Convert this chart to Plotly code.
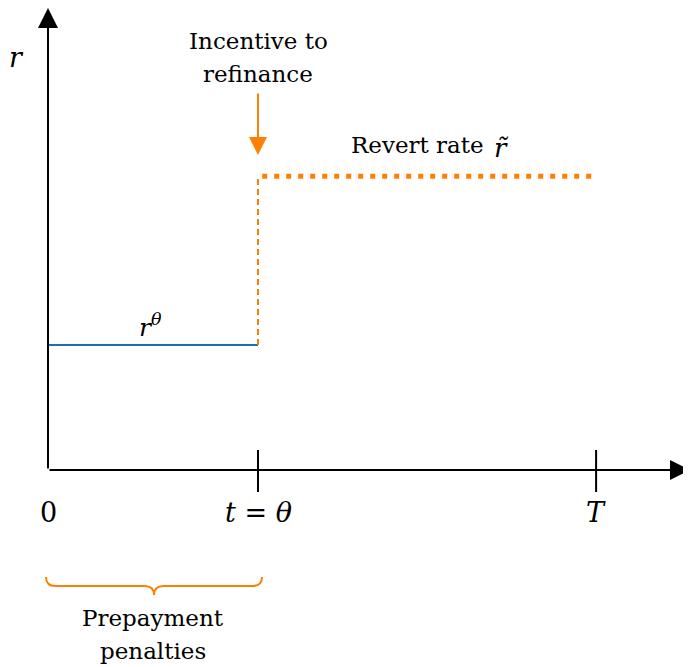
import plotly.graph_objects as go

# ---- data (chart units) ----
t_theta = 1.0          # refinance time θ
T_end = 2.61           # maturity T
r_theta = 1.0          # initial rate r^θ
r_tilde = 2.35         # revert rate r̃
tick_positions = [0.0, t_theta, T_end]
tick_labels = ["0", "<i>t</i> = <i>θ</i>", "<i>T</i>"]

ORANGE = "#ff8000"
BLUE = "#1a6fb0"
FONT = "DejaVu Serif"
TXT = 23
MATH = 27

# page offset (body margin) compensation, in px
OFF = 8
PX_X = 210.0
PX_Y = 125.0
X0PX = 48 - OFF
Y0PX = 470 - OFF

fig = go.Figure()

fig.add_trace(go.Scatter(x=[0.0, t_theta], y=[r_theta, r_theta], mode="lines",
                         line=dict(color=BLUE, width=2), hoverinfo="skip"))
fig.add_trace(go.Scatter(x=[t_theta, t_theta], y=[r_theta, r_tilde], mode="lines",
                         line=dict(color=ORANGE, width=2, dash="6px,4px"), hoverinfo="skip"))
fig.add_trace(go.Scatter(x=[t_theta + 0.02, T_end], y=[r_tilde, r_tilde], mode="lines",
                         line=dict(color=ORANGE, width=5, dash="5px,7px"), hoverinfo="skip"))

x_tip = 3.057
y_tip = 3.696
ann = []
ann.append(dict(x=x_tip, y=0, ax=0, ay=0, xref="x", yref="y", axref="x", ayref="y",
                text="", showarrow=True, arrowhead=2, arrowsize=2.0, arrowwidth=2, arrowcolor="black"))
ann.append(dict(x=0, y=y_tip, ax=0, ay=0, xref="x", yref="y", axref="x", ayref="y",
                text="", showarrow=True, arrowhead=2, arrowsize=2.0, arrowwidth=2, arrowcolor="black"))

shapes = []
for tp in tick_positions[1:]:
    shapes.append(dict(type="line", xref="x", yref="y", x0=tp, x1=tp, y0=0.16, y1=-0.176,
                       line=dict(color="black", width=2)))
for tp, tl in zip(tick_positions, tick_labels):
    ann.append(dict(x=tp, y=-0.336, xref="x", yref="y", text=tl, showarrow=False,
                    font=dict(family=FONT, size=MATH, color="black"), xanchor="center", yanchor="middle"))

ann.append(dict(x=-0.148, y=3.30, xref="x", yref="y", text="<i>r</i>", showarrow=False,
                font=dict(family=FONT, size=MATH, color="black")))

ann.append(dict(x=t_theta, y=3.43, xref="x", yref="y", text="Incentive to", showarrow=False,
                font=dict(family=FONT, size=TXT, color="black")))
ann.append(dict(x=t_theta, y=3.17, xref="x", yref="y", text="refinance", showarrow=False,
                font=dict(family=FONT, size=TXT, color="black")))
ann.append(dict(x=t_theta, y=2.52, ax=t_theta, ay=3.024, xref="x", yref="y", axref="x", ayref="y",
                text="", showarrow=True, arrowhead=2, arrowsize=1.8, arrowwidth=2, arrowcolor=ORANGE))

ann.append(dict(x=1.434, y=2.6, xref="x", yref="y", text="Revert rate",
                showarrow=False, xanchor="left",
                font=dict(family=FONT, size=TXT, color="black")))
ann.append(dict(x=2.158, y=2.58, xref="x", yref="y", text="<i>r̃</i>",
                showarrow=False, xanchor="center",
                font=dict(family=FONT, size=26, color="black")))

ann.append(dict(x=0.486, y=1.16, xref="x", yref="y", text="<i>r</i><sup><i>θ</i></sup>",
                showarrow=False, font=dict(family=FONT, size=25, color="black")))

x0, x1 = -0.0095, 1.019
xm = (x0 + x1) / 2
ytop, yh, ytip = -0.856, -0.928, -1.0
c = 0.045
path = (f"M {x0},{ytop} Q {x0},{yh} {x0 + c},{yh} L {xm - c},{yh} Q {xm},{yh} {xm},{ytip} "
        f"Q {xm},{yh} {xm + c},{yh} L {x1 - c},{yh} Q {x1},{yh} {x1},{ytop}")
shapes.append(dict(type="path", path=path, xref="x", yref="y", line=dict(color=ORANGE, width=2)))

ann.append(dict(x=0.5, y=-1.182, xref="x", yref="y", text="Prepayment", showarrow=False,
                font=dict(family=FONT, size=TXT, color="black")))
ann.append(dict(x=0.5, y=-1.446, xref="x", yref="y", text="penalties", showarrow=False,
                font=dict(family=FONT, size=TXT, color="black")))

fig.update_layout(
    width=691, height=667,
    margin=dict(l=0, r=0, t=0, b=0),
    paper_bgcolor="white", plot_bgcolor="white",
    showlegend=False,
    font=dict(family=FONT),
    xaxis=dict(range=[-X0PX / PX_X, (691 - X0PX) / PX_X], visible=False, fixedrange=True),
    yaxis=dict(range=[(Y0PX - 667) / PX_Y, Y0PX / PX_Y], visible=False, fixedrange=True),
    annotations=ann, shapes=shapes,
)

fig.write_html("out.html")
